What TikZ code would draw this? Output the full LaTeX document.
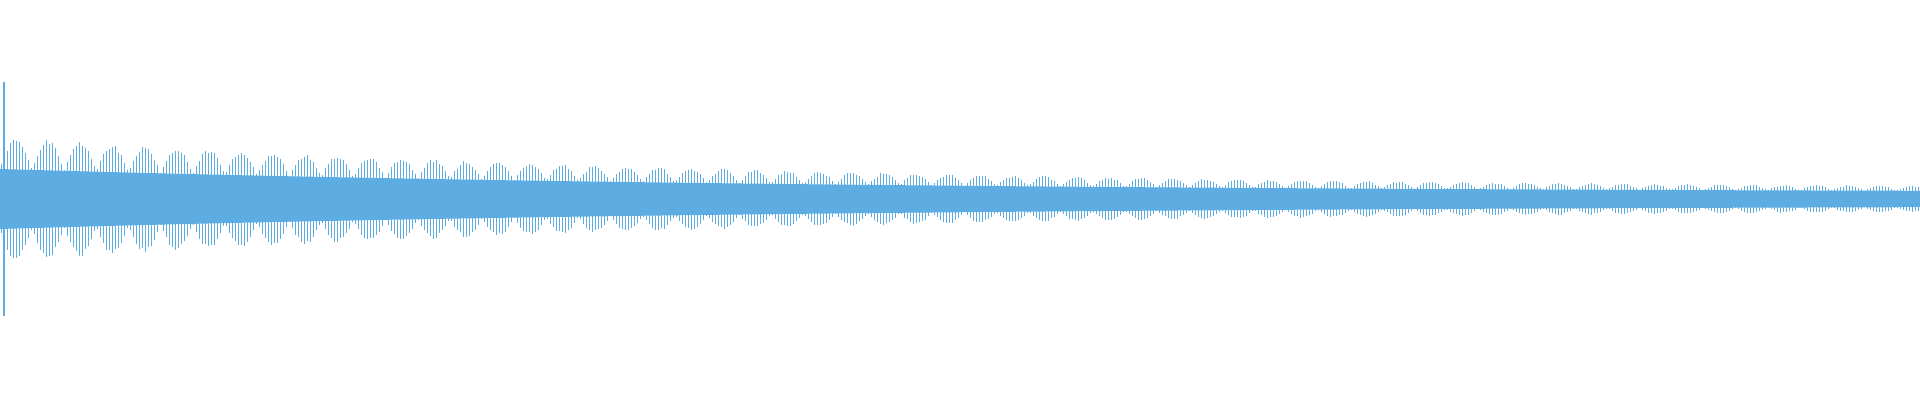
\documentclass[tikz,border=0pt]{standalone}
\usetikzlibrary{calc}
\definecolor{wave}{RGB}{93,173,226}
\tikzset{
    bar/.style={draw=wave, line width=0.012cm},
    core/.style={fill=wave, draw=none}
}
\begin{document}
\begin{tikzpicture}[x=0.01cm, y=0.01cm]
    \useasboundingbox (0,0) rectangle (1920,400);
    \pgfmathsetseed{7}
    % Solid core of the signal
    \fill[core] plot[domain=0:1920, samples=97] (\x, {201+6+24*exp(-\x/800)})
        -- plot[domain=1920:0, samples=97] (\x, {201-6-24*exp(-\x/800)}) -- cycle;
    % Bars with beating envelope
    \foreach \i in {0,...,639} {
        \pgfmathsetmacro{\px}{3*\i+1.5}
        \pgfmathsetmacro{\cc}{6+24*exp(-\px/800)}
        \pgfmathsetmacro{\ee}{8+52*exp(-\px/800)}
        \pgfmathsetmacro{\lobe}{abs(sin(5.6*\px))}
        \pgfmathsetmacro{\up}{\cc+(\ee-\cc)*\lobe*(0.9+0.2*rnd)}
        \pgfmathsetmacro{\dn}{\cc+(\ee-\cc)*\lobe*(0.9+0.2*rnd)}
        \draw[bar] (\px, {201+\up}) -- (\px, {201-\dn});
    }
    % Initial transient
    \draw[bar] (4,318) -- (4,84);
\end{tikzpicture}
\end{document}
